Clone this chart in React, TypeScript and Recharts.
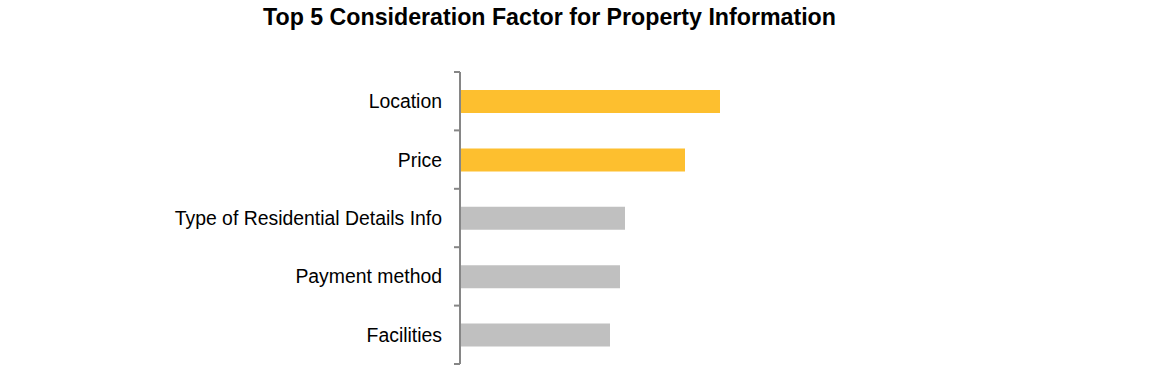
import React from "react";
import { BarChart, Bar, XAxis, YAxis, Cell } from "recharts";

const categories = [
  "Location",
  "Price",
  "Type of Residential Details Info",
  "Payment method",
  "Facilities",
];
const values = [52, 45, 33, 32, 30];
const highlighted = [true, true, false, false, false];

const data = categories.map((name, i) => ({ name, value: values[i], hi: highlighted[i] }));

const W = 1158;
const H = 390;
const TOP = 72;
const BOTTOM = 26;
const AXIS_X = 460;
const BAND = (H - TOP - BOTTOM) / categories.length;

const Tick = (props: any) => {
  const { x, y, payload, index } = props;
  const half = BAND / 2;
  return (
    <g>
      <line x1={AXIS_X - 6} x2={AXIS_X} y1={y - half} y2={y - half} stroke="#868686" strokeWidth={2} />
      {index === categories.length - 1 && (
        <line x1={AXIS_X - 6} x2={AXIS_X} y1={y + half} y2={y + half} stroke="#868686" strokeWidth={2} />
      )}
      <text
        x={x - 10}
        y={y}
        dy={7}
        textAnchor="end"
        fill="#000"
        fontSize={19.4}
        fontFamily="'Liberation Sans', Arial, sans-serif"
      >
        {payload.value}
      </text>
    </g>
  );
};

export default function App() {
  return (
    <div style={{ position: "absolute", left: 0, top: 0, width: W, height: H, background: "#fff" }}>
      <div
        style={{
          position: "absolute",
          left: 0,
          top: 4,
          width: 1099,
          textAlign: "center",
          fontFamily: "'Liberation Sans', Arial, sans-serif",
          fontWeight: "bold",
          fontSize: 23.2,
          color: "#000",
        }}
      >
        Top 5 Consideration Factor for Property Information
      </div>
      <BarChart
        width={W}
        height={H}
        data={data}
        layout="vertical"
        margin={{ top: TOP, right: 198, bottom: BOTTOM, left: 0 }}
      >
        <XAxis type="number" domain={[0, 100]} hide />
        <YAxis
          type="category"
          dataKey="name"
          width={AXIS_X}
          axisLine={{ stroke: "#868686", strokeWidth: 2 }}
          tickLine={false}
          tick={<Tick />}
          interval={0}
        />
        <Bar dataKey="value" barSize={23} isAnimationActive={false}>
          {data.map((d, i) => (
            <Cell key={i} fill={d.hi ? "#FDBF2F" : "#C0C0C0"} />
          ))}
        </Bar>
      </BarChart>
    </div>
  );
}
